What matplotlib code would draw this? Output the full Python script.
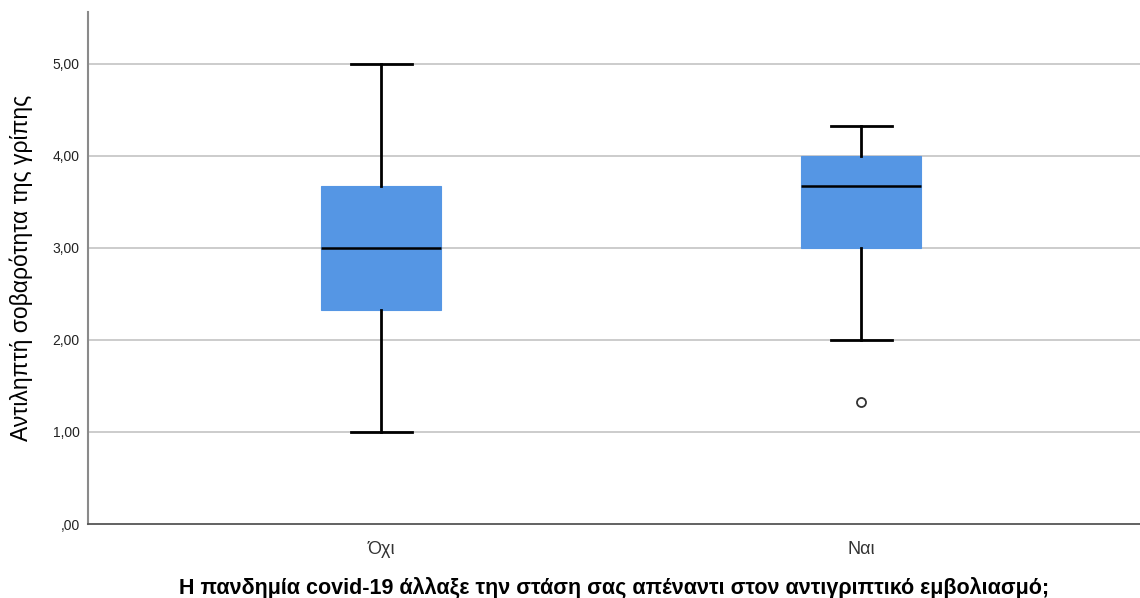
import matplotlib
matplotlib.use("Agg")
import matplotlib.pyplot as plt
from matplotlib import font_manager

# Summary statistics per group (min whisker, Q1, median, Q3, max whisker, outliers)
groups = ["Όχι", "Ναι"]
whisker_low = [1.00, 2.00]
q1 = [2.33, 3.00]
median = [3.00, 3.67]
q3 = [3.67, 4.00]
whisker_high = [5.00, 4.33]
outliers = [[], [1.33]]

y_ticks = [0, 1, 2, 3, 4, 5]
y_tick_labels = [",00", "1,00", "2,00", "3,00", "4,00", "5,00"]
y_label = "Αντιληπτή σοβαρότητα της γρίπης"
x_label = "Η πανδημία covid-19 άλλαξε την στάση σας απέναντι στον αντιγριπτικό εμβολιασμό;"

available = {f.name for f in font_manager.fontManager.ttflist}
narrow = "Liberation Sans Narrow" if "Liberation Sans Narrow" in available else "Liberation Sans"
plt.rcParams["font.family"] = ["Liberation Sans", "DejaVu Sans"]

W, H = 1140, 598
fig = plt.figure(figsize=(W / 100, H / 100), dpi=100)
left, right, bottom, top = 88, 1140, 524, 12
ax = fig.add_axes([left / W, (H - bottom) / H, (right - left) / W, (bottom - top) / H])

stats = []
for i, g in enumerate(groups):
    stats.append(dict(label=g, whislo=whisker_low[i], q1=q1[i], med=median[i],
                      q3=q3[i], whishi=whisker_high[i], fliers=outliers[i]))

ax.bxp(stats, positions=[1, 2], widths=0.25, patch_artist=True,
       boxprops=dict(facecolor="#5596E4", edgecolor="#5596E4", linewidth=0.8),
       medianprops=dict(color="black", linewidth=1.8),
       whiskerprops=dict(color="black", linewidth=2),
       capprops=dict(color="black", linewidth=2),
       capwidths=0.127,
       flierprops=dict(marker="o", markersize=6.5, markerfacecolor="white",
                       markeredgecolor="#333333", markeredgewidth=1.3),
       zorder=3)

ax.set_xlim(0.39, 2.58)
ax.set_ylim(0, 5.565)
ax.set_yticks(y_ticks)
ax.set_yticklabels(y_tick_labels, fontsize=10, color="#222222")
ax.set_xticks([1, 2])
ax.set_xticklabels(groups, fontsize=13, color="#333333", family=narrow)
ax.tick_params(axis="y", length=0, pad=6)
ax.tick_params(axis="x", length=0, pad=12)

for y in y_ticks[1:]:
    ax.axhline(y, color="#C8C8C8", linewidth=1.3, zorder=1)

for s in ["top", "right"]:
    ax.spines[s].set_visible(False)
ax.spines["left"].set_color("#8A8A8A")
ax.spines["left"].set_linewidth(1.5)
ax.spines["bottom"].set_color("#555555")
ax.spines["bottom"].set_linewidth(1.3)

ax.set_ylabel(y_label, fontsize=16.5, family=narrow, color="black", labelpad=14)
ax.set_xlabel(x_label, fontsize=15.5, fontweight="bold", family=narrow, color="black", labelpad=14)

fig.savefig("out.png", dpi=100, facecolor="white")
